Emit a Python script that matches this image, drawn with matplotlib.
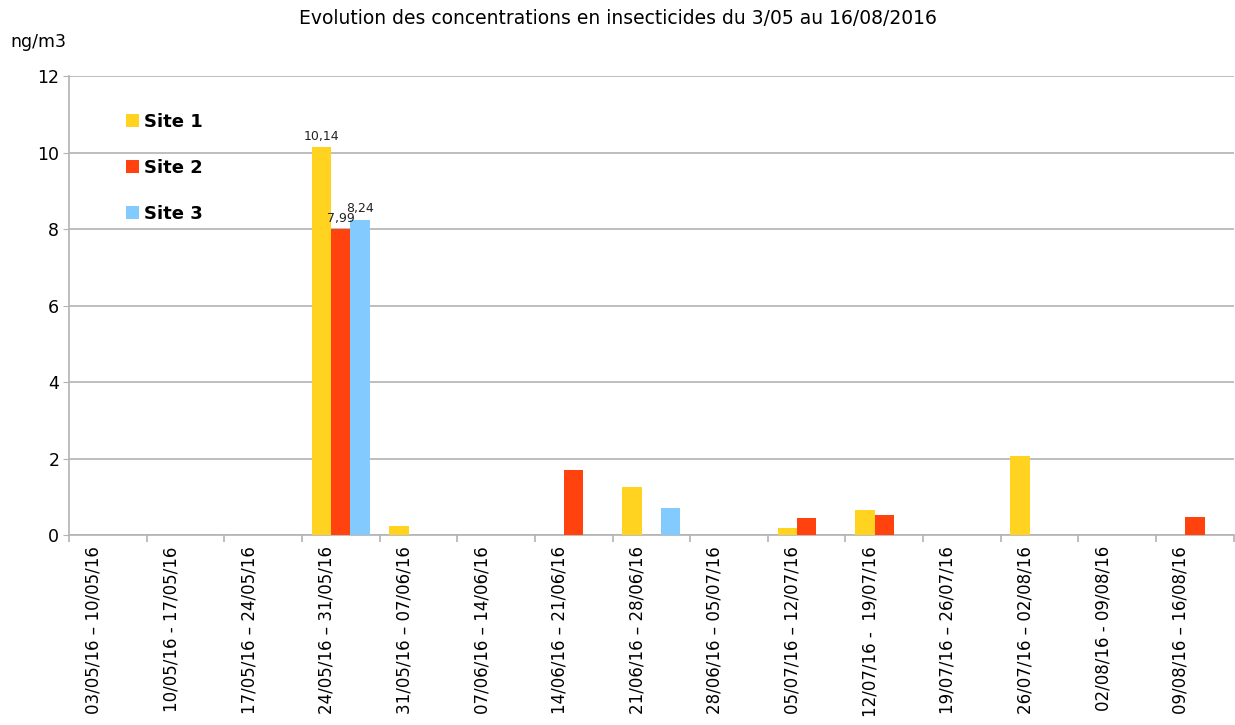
import numpy as np
import matplotlib.pyplot as plt
import matplotlib.transforms as mtransforms

periods = [
    "03/05/16 – 10/05/16", "10/05/16 - 17/05/16", "17/05/16 – 24/05/16",
    "24/05/16 – 31/05/16", "31/05/16 – 07/06/16", "07/06/16 – 14/06/16",
    "14/06/16 – 21/06/16", "21/06/16 – 28/06/16", "28/06/16 – 05/07/16",
    "05/07/16 – 12/07/16", "12/07/16 -  19/07/16", "19/07/16 – 26/07/16",
    "26/07/16 – 02/08/16", "02/08/16 - 09/08/16", "09/08/16 – 16/08/16",
]
site1 = [0, 0, 0, 10.14, 0.23, 0, 0, 1.25, 0, 0.18, 0.65, 0, 2.06, 0, 0]
site2 = [0, 0, 0, 7.99, 0, 0, 1.70, 0, 0, 0.44, 0.52, 0, 0, 0, 0.47]
site3 = [0, 0, 0, 8.24, 0, 0, 0, 0.71, 0, 0, 0, 0, 0, 0, 0]

# labels shown on the bars (index of period, value text)
labels1 = {3: "10,14"}
labels2 = {3: "7,99"}
labels3 = {3: "8,24"}

colors = ["#ffd320", "#ff420e", "#83caff"]
names = ["Site 1", "Site 2", "Site 3"]

fig = plt.figure(figsize=(12.35, 7.25), dpi=100)
ax = fig.add_axes([0.0559, 0.262, 0.943, 0.633])

x = np.arange(len(periods))
w = 0.25
handles = []
for i, (vals, lab) in enumerate(zip([site1, site2, site3], [labels1, labels2, labels3])):
    b = ax.bar(x + (i - 1) * w, vals, w, color=colors[i], label=names[i], zorder=3)
    handles.append(b)
    for k, t in lab.items():
        ax.text(x[k] + (i - 1) * w, vals[k] + 0.12, t, ha="center", va="bottom",
                fontsize=9, color="#222222", zorder=4)

ax.set_xlim(-0.5, len(periods) - 0.5)
ax.set_ylim(0, 12)
ax.set_yticks(range(0, 13, 2))
ax.yaxis.grid(True, color="#b3b3b3", linewidth=1.2, zorder=0)
ax.tick_params(axis="y", labelsize=12.5, length=4, color="#b3b3b3", pad=3)

# category boundaries as ticks, labels near the centre
ax.set_xticks(np.arange(len(periods) + 1) - 0.5)
ax.set_xticklabels([])
ax.set_xticks(x, minor=True)
ax.set_xticklabels(periods, minor=True, rotation=90, fontsize=12, va="top")
ax.tick_params(axis="x", which="major", length=5, color="#b3b3b3", width=1.2)
ax.tick_params(axis="x", which="minor", length=0, pad=8)
shift = mtransforms.ScaledTranslation(-14 / 100, 0, fig.dpi_scale_trans)
for lbl in ax.get_xticklabels(minor=True):
    lbl.set_transform(lbl.get_transform() + shift)

for s in ["top", "right"]:
    ax.spines[s].set_visible(False)
for s in ["left", "bottom"]:
    ax.spines[s].set_color("#b3b3b3")
    ax.spines[s].set_linewidth(1.2)

leg = ax.legend(handles=handles, loc="upper left", bbox_to_anchor=(0.035, 0.955),
                frameon=False, handlelength=0.7, handleheight=0.7, handletextpad=0.3,
                labelspacing=1.55, prop={"weight": "bold", "size": 13})

fig.text(0.5, 0.975, "Evolution des concentrations en insecticides du 3/05 au 16/08/2016",
         ha="center", va="center", fontsize=13.5)
fig.text(0.008, 0.942, "ng/m3", ha="left", va="center", fontsize=12.5)

fig.savefig("out.png", dpi=100)
